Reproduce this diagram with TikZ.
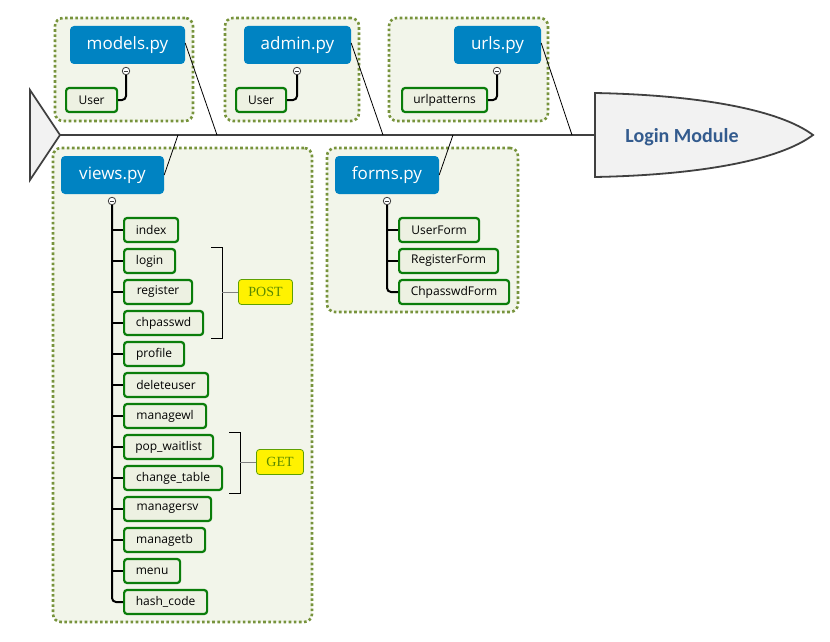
\documentclass[tikz,border=0pt]{standalone}
\usepackage{fontspec}
\setmainfont{Open Sans}
\newfontfamily\carlito{Carlito}
\newfontfamily\serifx{Liberation Serif}
\definecolor{hdrblue}{HTML}{0083C2}
\definecolor{grpfill}{HTML}{F2F5EA}
\definecolor{grpline}{HTML}{77933C}
\definecolor{kidline}{HTML}{0A7D0A}
\definecolor{kidfill}{HTML}{EDF1E2}
\definecolor{darkg}{HTML}{404040}
\definecolor{headfill}{HTML}{F2F2F2}
\definecolor{titleblue}{HTML}{335B8E}
\definecolor{tagtext}{HTML}{5A8A00}
\definecolor{tagline}{HTML}{5FA000}
\begin{document}
\begin{tikzpicture}[x=1pt,y=-1pt,
  group/.style={draw=grpline, fill=grpfill, line width=2.6pt, dash pattern=on 2.6pt off 2.5pt, rounded corners=8pt, inner sep=0pt},
  header/.style={fill=hdrblue, rounded corners=4pt, text=white, font=\fontsize{17}{18}\selectfont, minimum height=38pt, inner sep=0pt},
  kid/.style={draw=kidline, fill=kidfill, line width=2.2pt, rounded corners=3pt, font=\fontsize{12}{14}\selectfont, minimum height=24pt, inner sep=0pt, anchor=west},
  tog/.style={circle, draw=darkg, fill=white, line width=0.8pt, minimum size=7.5pt, inner sep=0pt},
  link/.style={draw=black, line width=2pt, rounded corners=4pt},
  bone/.style={draw=black, line width=0.8pt},
  tag/.style={draw=tagline, fill=yellow, rounded corners=3pt, line width=0.8pt, text=tagtext, font=\serifx\fontsize{14}{16}\selectfont, minimum height=25pt, inner sep=0pt},
  brk/.style={draw=black, line width=1pt}
]
\useasboundingbox (0,0) rectangle (830,642);

% groups
\node[group, minimum width=138pt, minimum height=103pt] (gmodels) at (124,69.5) {};
\node[group, minimum width=134pt, minimum height=103pt] (gadmin) at (292,69.5) {};
\node[group, minimum width=159pt, minimum height=103pt] (gurls) at (468.5,69.5) {};
\node[group, minimum width=259pt, minimum height=474pt] (gviews) at (182.5,385) {};
\node[group, minimum width=191pt, minimum height=164pt] (gforms) at (422.5,230) {};

% spine, tail, head
\coordinate (apex) at (60,135);
\filldraw[draw=darkg, fill=headfill, line width=1.8pt, line join=miter] (30,90) -- (apex) -- (30,180) -- cycle;
\coordinate (hl) at (595,135);
\draw[darkg, line width=2pt] (apex) -- (hl);
\filldraw[draw=darkg, fill=headfill, line width=1.8pt] (595,93) .. controls (700,95) and (780,110) .. (813,135) .. controls (780,160) and (700,175) .. (595,177) -- cycle;
\node[text=titleblue, font=\carlito\bfseries\fontsize{20}{24}\selectfont] (title) at (682,137) {Login Module};

% spine attach points
\coordinate (sm) at (217,135);
\coordinate (sa) at (383,135);
\coordinate (su) at (572,135);
\coordinate (sv) at (178,135);
\coordinate (sf) at (453,135);

% headers
\node[header, minimum width=115pt] (models) at (127.5,45) {models.py};
\node[header, minimum width=107pt] (admin) at (297.5,45) {admin.py};
\node[header, minimum width=87pt] (urls) at (497.5,45) {urls.py};
\node[header, minimum width=103pt] (views) at (112.5,175) {views.py};
\node[header, minimum width=104pt] (forms) at (387,175) {forms.py};

\draw[bone] ([yshift=2pt]models.east) -- (sm);
\draw[bone] ([yshift=2pt]admin.east) -- (sa);
\draw[bone] ([yshift=2pt]urls.east) -- (su);
\draw[bone] (views.east) -- (sv);
\draw[bone] (forms.east) -- (sf);

% toggles
\node[tog] (tm) at (126,71) {};
\node[tog] (ta) at (297,71) {};
\node[tog] (tu) at (497,71) {};
\node[tog] (tv) at (112,201) {};
\node[tog] (tf) at (387,201) {};
\foreach \t in {tm,ta,tu,tv,tf}{
  \draw[darkg, line width=0.8pt] ([xshift=-2.2pt]\t.center) -- ([xshift=2.2pt]\t.center);
}

% models/admin/urls children
\node[kid, minimum width=51pt] (muser) at (65,100) {User};
\node[kid, minimum width=50pt] (auser) at (235,100) {User};
\node[kid, minimum width=85pt] (upat) at (401,100) {urlpatterns};
\draw[link] (tm.south) |- (muser.east);
\draw[link] (ta.south) |- (auser.east);
\draw[link] (tu.south) |- (upat.east);

% views children
\node[kid, minimum width=54pt] (v1) at (123,230) {index};
\node[kid, minimum width=51pt] (v2) at (123,261) {login};
\node[kid, minimum width=68pt] (v3) at (123,292) {register};
\node[kid, minimum width=79pt] (v4) at (123,323) {chpasswd};
\node[kid, minimum width=60pt] (v5) at (123,354) {profile};
\node[kid, minimum width=84pt] (v6) at (123,385) {deleteuser};
\node[kid, minimum width=82pt] (v7) at (123,416) {managewl};
\node[kid, minimum width=89pt] (v8) at (123,447) {pop\_waitlist};
\node[kid, minimum width=98pt] (v9) at (123,478) {change\_table};
\node[kid, minimum width=87pt] (v10) at (123,509) {managersv};
\node[kid, minimum width=81pt] (v11) at (123,540) {managetb};
\node[kid, minimum width=56pt] (v12) at (123,571) {menu};
\node[kid, minimum width=83pt] (v13) at (123,602) {hash\_code};
\draw[link] (tv.south) |- (v13.west);
\foreach \k in {v1,v2,v3,v4,v5,v6,v7,v8,v9,v10,v11,v12}{
  \draw[black, line width=2pt] (tv.south |- \k.west) -- (\k.west);
}

% forms children
\node[kid, minimum width=80pt] (f1) at (398,230) {UserForm};
\node[kid, minimum width=99pt] (f2) at (398,261) {RegisterForm};
\node[kid, minimum width=110pt] (f3) at (398,292) {ChpasswdForm};
\draw[link] (tf.south) |- (f3.west);
\foreach \k in {f1,f2}{
  \draw[black, line width=2pt] (tf.south |- \k.west) -- (\k.west);
}

% POST bracket
\node[tag, minimum width=54pt] (post) at (265.5,292) {POST};
\coordinate (pt) at (211,247);
\coordinate (pb) at (211,338);
\draw[brk] (pt) -- ++(11,0) |- (pb);
\draw[gray, line width=1pt] (222,292) -- (post.west);

% GET bracket
\node[tag, minimum width=47pt] (get) at (280,462) {GET};
\coordinate (gt) at (229,432);
\coordinate (gb) at (229,493);
\draw[brk] (gt) -- ++(11,0) |- (gb);
\draw[gray, line width=1pt] (240,462) -- (get.west);
\end{tikzpicture}
\end{document}
